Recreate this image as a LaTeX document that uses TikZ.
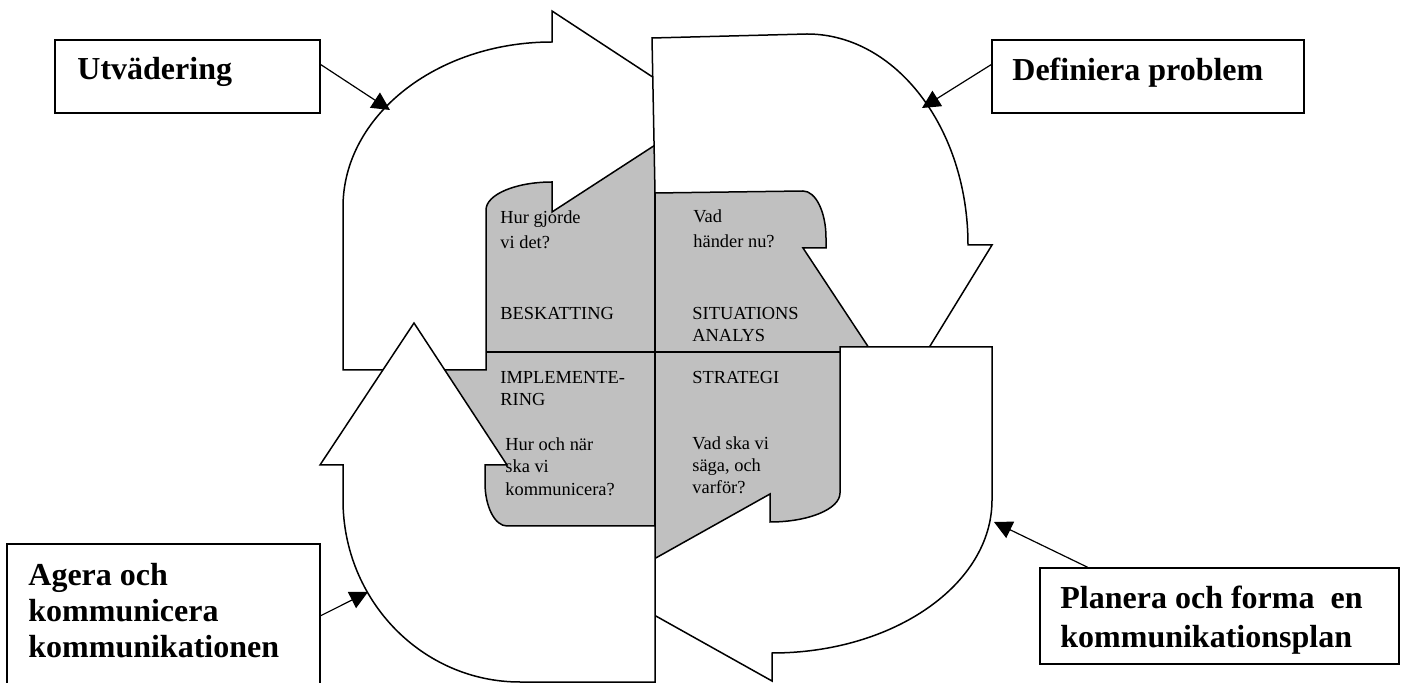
\documentclass[tikz,border=0pt]{standalone}
\usepackage{fontspec}
\setmainfont{Liberation Serif}
\usepackage{tikz}
\usetikzlibrary{arrows.meta, positioning, calc}
\definecolor{CSilver}{HTML}{C0C0C0}
\definecolor{CInk}{HTML}{000000}
\tikzset{
    bendarrow/.style={draw=CInk, fill=white, line width=0.75pt, line join=miter},
    labelbox/.style={draw=CInk, line width=0.75pt, inner sep=0pt, minimum height=36.5pt},
    labeltext/.style={font=\fontsize{16}{18}\selectfont\bfseries, align=left, anchor=base west, inner sep=0pt},
    celltext/.style={font=\fontsize{9.2}{11}\selectfont, align=left, anchor=base west, inner sep=0pt},
    pointer/.style={-{Triangle[length=9pt, width=9pt]}, line width=0.6pt, draw=CInk},
}

\begin{document}
\begin{tikzpicture}[x=0.5pt, y=-0.5pt]

    \useasboundingbox (0,0) rectangle (1402,683);
    \clip (0,0) rectangle (1402,683);

    % --- 1. GRAY CORE ---
    \fill[CSilver] (420,120) rectangle (880,560);
    \draw[line width=0.75pt] (420,352) -- (880,352);
    \draw[line width=0.75pt] (655,120) -- (655,560);

    % --- 2. BENT ARROWS ---

    % Top left (points right)
    \draw[bendarrow] (486,370) -- (486,210)
        .. controls (486,194.5) and (515.6,182) .. (552,182)
        -- (552,212) -- (706,112) -- (552,11) -- (552,42)
        .. controls (436.6,42) and (343,115.9) .. (343,207)
        -- (343,370) -- cycle;

    % Top right (points down)
    \draw[bendarrow] (655,193) -- (652,38) -- (807,34)
        .. controls (895.9,34) and (968,128.5) .. (968,245)
        -- (992,245) -- (900,395) -- (803,248) -- (826,248) -- (826,238)
        .. controls (826,212) and (815.7,191) .. (803,191) -- cycle;

    % Bottom right (points left)
    \draw[bendarrow] (840,347) -- (992,347) -- (992,500)
        .. controls (992,584.5) and (893.4,653) .. (772,653)
        -- (772,681) -- (604,587) -- (770,494) -- (770,522)
        .. controls (808.6,522) and (840,509) .. (840,493) -- cycle;

    % Bottom left (points up)
    \draw[bendarrow] (655,526) -- (507,526)
        .. controls (494.9,526) and (485,506.7) .. (485,483)
        -- (485,465) -- (507,465) -- (414,323) -- (320,465) -- (343,465) -- (343,500)
        .. controls (343,600.5) and (422.3,682) .. (520,682)
        -- (655,682) -- cycle;

    % --- 3. CELL TEXTS (placed at the baseline of the last line) ---
    \node[celltext, font=\fontsize{9.2}{12.5}\selectfont] (howdid) at (500,249) {Hur gjorde\\vi det?};
    \node[celltext, font=\fontsize{9.2}{12.5}\selectfont] (whatnow) at (693,248) {Vad\\händer nu?};
    \node[celltext] (beskatt) at (500,320) {BESKATTING};
    \node[celltext] (situation) at (692,342) {SITUATIONS\\ANALYS};
    \node[celltext] (implement) at (500,406) {IMPLEMENTE-\\RING};
    \node[celltext] (strategy) at (692,384) {STRATEGI};
    \node[celltext] (howwhen) at (505,495) {Hur och när\\ska vi\\kommunicera?};
    \node[celltext] (whatsay) at (692,494) {Vad ska vi\\säga, och\\varför?};

    % --- 4. LABEL BOXES ---
    \node[labelbox, minimum width=132.5pt] (utv) at (187.5,76.5) {};
    \node[labeltext] (utvtext) at (77,80) {Utvädering};

    \node[labelbox, minimum width=156pt] (def) at (1148,76.5) {};
    \node[labeltext] (deftext) at (1012,81) {Definiera problem};

    \node[labelbox, minimum width=156.5pt, minimum height=78pt] (age) at (163.5,622) {};
    \node[labeltext] (agetext) at (28,657) {Agera och\\kommunicera\\kommunikationen};

    \node[labelbox, minimum width=179.5pt, minimum height=48pt] (pla) at (1219.5,616) {};
    \node[labeltext, font=\fontsize{16}{19.5}\selectfont\bfseries] (platext) at (1060,647) {Planera och forma\ \ en\\kommunikationsplan};

    % --- 5. POINTERS ---
    \coordinate (utvtip) at (390,110);
    \coordinate (deftip) at (922,108);
    \coordinate (agetip) at (368,592);
    \coordinate (platip) at (994,522);

    \draw[pointer] ($(utv.north east)!0.34!(utv.south east)$) -- (utvtip);
    \draw[pointer] ($(def.north west)!0.34!(def.south west)$) -- (deftip);
    \draw[pointer] ($(age.north east)!0.46!(age.south east)$) -- (agetip);
    \draw[pointer] ($(pla.north west)!0.134!(pla.north east)$) -- (platip);

\end{tikzpicture}
\end{document}
